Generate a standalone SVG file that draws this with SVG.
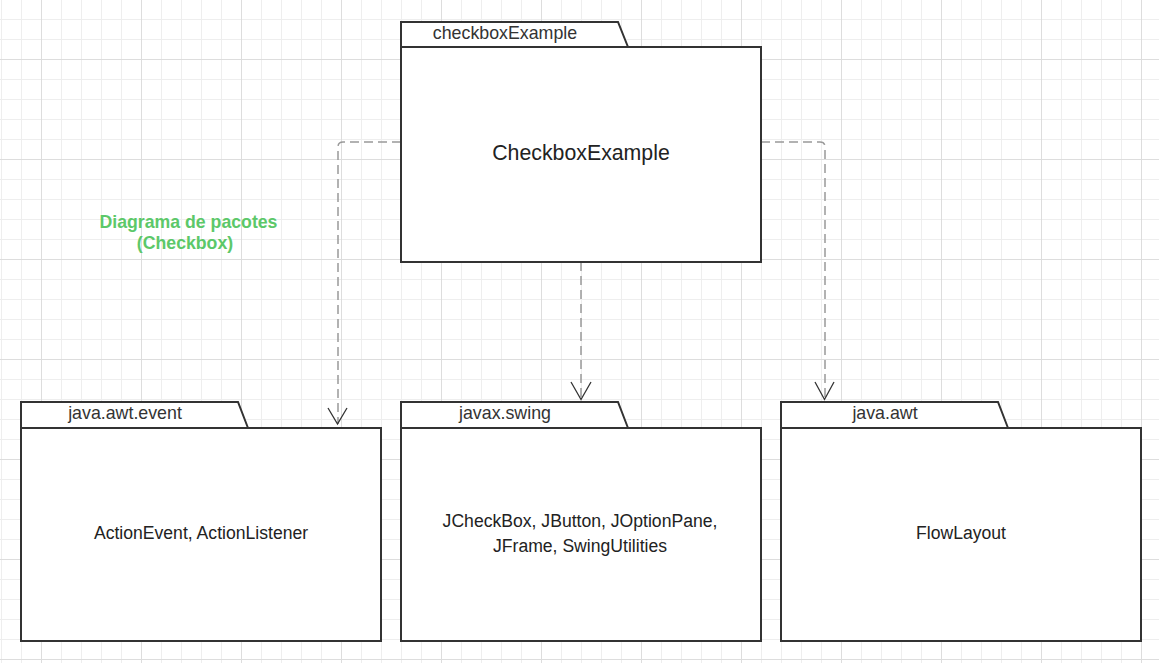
<svg xmlns="http://www.w3.org/2000/svg" width="1159" height="663" viewBox="0 0 1159 663">
<style>
.pkg{fill:#fff;stroke:#333;stroke-width:2}
.tab{font-family:"Liberation Sans",Arial,sans-serif;font-size:17.8px;fill:#333;text-anchor:middle}
.body{font-family:"Liberation Sans",Arial,sans-serif;font-size:17.6px;fill:#222;text-anchor:middle}
.conn{fill:none;stroke:#999;stroke-width:1.5;stroke-dasharray:9 5}
.head{fill:none;stroke:#333;stroke-width:1.3}
.title{font-family:"Liberation Sans",Arial,sans-serif;font-size:17.7px;font-weight:bold;fill:#5cc869;text-anchor:middle}
</style>
<defs>
<pattern id="minor" width="20" height="20" x="1" y="19" patternUnits="userSpaceOnUse">
<path d="M0.5 0 V20 M0 0.5 H20" stroke="#eeeeee" stroke-width="1" fill="none"/>
</pattern>
<pattern id="major" width="100" height="100" x="41" y="59" patternUnits="userSpaceOnUse">
<path d="M0.5 0 V100 M0 0.5 H100" stroke="#dddddd" stroke-width="1" fill="none"/>
</pattern>
</defs>
<rect width="1159" height="663" fill="#fff"/>
<rect width="1159" height="663" fill="url(#minor)"/>
<rect width="1159" height="663" fill="url(#major)"/>

<g id="connectors">
<path class="conn" d="M401 142 H343 Q338 142 338 147 V424"/>
<polyline class="head" points="328,408 337.5,424 347,408"/>
<path class="conn" d="M581 262 V399"/>
<polyline class="head" points="571,382 581,399.5 591,382"/>
<path class="conn" d="M761 142 H820 Q825 142 825 147 V399"/>
<polyline class="head" points="815,382 824.5,399.5 834,382"/>
</g>

<g id="pkg-checkboxExample">
<path class="pkg" d="M401 47 V22 H618 L628 47"/>
<rect class="pkg" x="401" y="47" width="360" height="215"/>
<text class="tab" x="505" y="39">checkboxExample</text>
<text class="body" x="581" y="160" style="font-size:21.3px">CheckboxExample</text>
</g>

<g id="pkg-java-awt-event">
<path class="pkg" d="M21 428 V402 H238 L248 428"/>
<rect class="pkg" x="21" y="428" width="360" height="213"/>
<text class="tab" x="125" y="419">java.awt.event</text>
<text class="body" x="201" y="539">ActionEvent, ActionListener</text>
</g>

<g id="pkg-javax-swing">
<path class="pkg" d="M401 428 V402 H618 L628 428"/>
<rect class="pkg" x="401" y="428" width="360" height="213"/>
<text class="tab" x="505" y="419">javax.swing</text>
<text class="body" x="580" y="527">JCheckBox, JButton, JOptionPane,</text>
<text class="body" x="580" y="552">JFrame, SwingUtilities</text>
</g>

<g id="pkg-java-awt">
<path class="pkg" d="M781 428 V402 H998 L1008 428"/>
<rect class="pkg" x="781" y="428" width="360" height="213"/>
<text class="tab" x="885" y="419">java.awt</text>
<text class="body" x="961" y="539">FlowLayout</text>
</g>

<g id="title">
<text class="title" x="188.5" y="228">Diagrama de pacotes</text>
<text class="title" x="185" y="249">(Checkbox)</text>
</g>
</svg>
